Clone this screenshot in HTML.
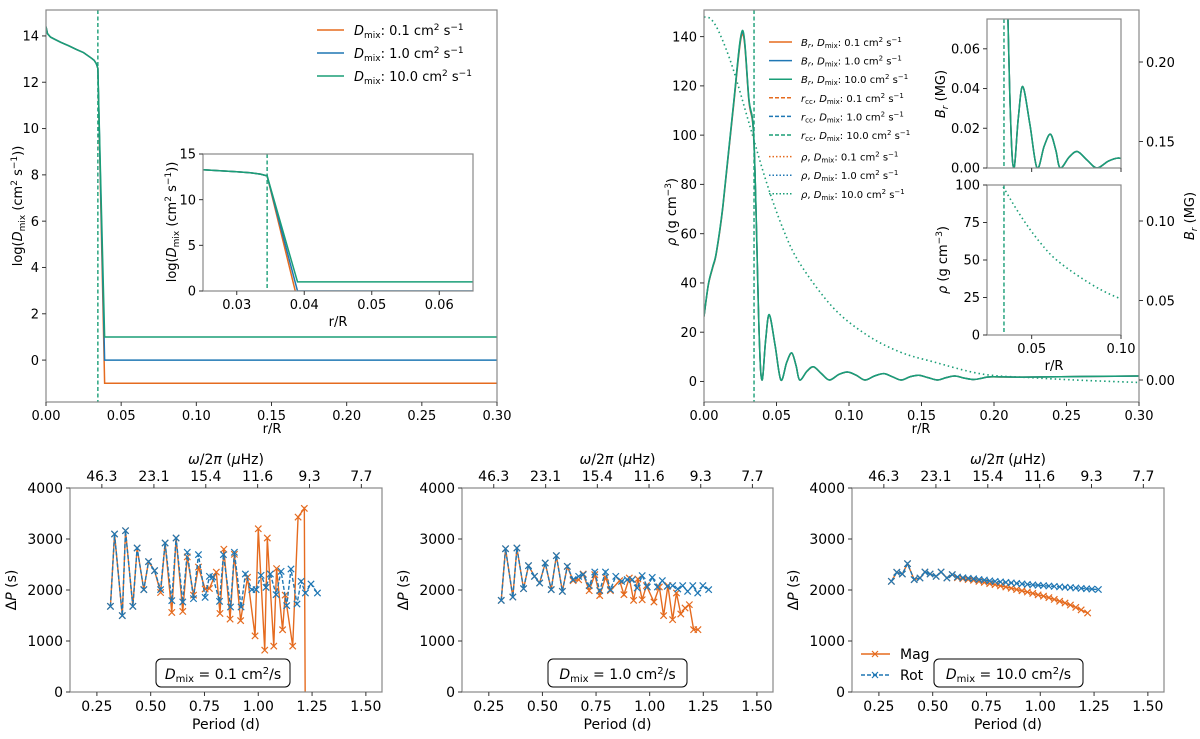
<!DOCTYPE html>
<html><head><meta charset="utf-8">
<style>
html,body{margin:0;padding:0;background:#fff;}
svg{display:block;font-family:"DejaVu Sans","Liberation Sans",sans-serif;}
</style></head>
<body>
<svg id="fig" width="1200" height="739" viewBox="0 0 1200 739" xmlns="http://www.w3.org/2000/svg"></svg>
<script>
// ---------- DATA ----------
const dmixR = [0, 0.001, 0.003, 0.006, 0.01, 0.015, 0.02, 0.025, 0.03, 0.032, 0.0335, 0.0345, 0.039, 0.3];
const dmixCore = [14.4, 14.1, 13.95, 13.85, 13.72, 13.58, 13.42, 13.28, 13.05, 12.95, 12.8, 12.6];
const dmixEnv01 = [-1, -1];
const dmixEnv1 = [0, 0];
const dmixEnv10 = [1, 1];
const dmixLabels = ["0.1", "1.0", "10.0"];
const rccValue = 0.0345;
const brR = [0, 0.003, 0.006, 0.0085, 0.013, 0.02, 0.0265, 0.031, 0.0345, 0.038, 0.040, 0.0425, 0.045, 0.049, 0.053, 0.057, 0.0605, 0.0635, 0.066, 0.071, 0.0755, 0.081, 0.0865, 0.093, 0.099, 0.105, 0.111, 0.1175, 0.124, 0.130, 0.136, 0.142, 0.148, 0.1545, 0.161, 0.167, 0.173, 0.1795, 0.186, 0.192, 0.198, 0.22, 0.26, 0.3];
const brVal = [0.040, 0.060, 0.071, 0.080, 0.109, 0.170, 0.219, 0.176, 0.149, 0.030, 0.0, 0.025, 0.041, 0.022, 0.0, 0.011, 0.017, 0.009, 0.0, 0.0055, 0.0083, 0.004, 0.0, 0.0035, 0.005, 0.003, 0.0, 0.0025, 0.004, 0.002, 0.0, 0.002, 0.003, 0.0015, 0.0, 0.0015, 0.0025, 0.0012, 0.0003, 0.0012, 0.002, 0.0018, 0.0022, 0.0025];
const rhoR = [0, 0.005, 0.011, 0.02, 0.0315, 0.043, 0.0545, 0.066, 0.089, 0.112, 0.135, 0.158, 0.192, 0.227, 0.26, 0.3];
const rhoVal = [148, 147, 141, 127, 104, 81, 62, 48, 30, 19, 12, 8, 3, 1.5, 0.5, -0.4];
const p1Period = [0.313,0.332,0.368,0.383,0.417,0.437,0.468,0.490,0.518,0.546,0.567,0.598,0.618,0.649,0.670,0.699,0.722,0.753,0.773,0.789,0.820,0.838,0.871,0.889,0.920,0.940,0.970,0.990,1.013,1.036,1.056,1.083,1.106,1.132,1.152,1.180,1.199,1.219,1.245,1.275];
const p1Rot = [1680,3098,1497,3163,1680,2824,2007,2556,2379,2007,2922,1791,3020,1765,2739,1830,2693,1856,2268,2255,1778,2693,1667,2739,1667,2314,2007,2007,2288,2052,2314,1909,2366,1693,2412,1726,2170,1941,2118,1941];
const p1MagPeriod = [0.313,0.332,0.368,0.383,0.417,0.437,0.468,0.490,0.518,0.546,0.567,0.598,0.618,0.649,0.670,0.699,0.722,0.753,0.773,0.805,0.822,0.840,0.869,0.889,0.918,0.950,0.985,1.000,1.030,1.042,1.072,1.085,1.113,1.125,1.160,1.185,1.214,1.218];
const p1Mag = [1680,3098,1497,3163,1680,2824,2007,2556,2379,1950,2922,1560,3020,1580,2650,1900,2450,2020,2030,2350,1540,2800,1430,2700,1400,2250,1100,3200,820,3020,900,2420,1220,1900,900,3430,3600,-100];
const p2Period = [0.308,0.328,0.362,0.381,0.412,0.435,0.463,0.487,0.513,0.541,0.565,0.593,0.616,0.643,0.669,0.690,0.718,0.744,0.767,0.794,0.817,0.842,0.869,0.895,0.919,0.942,0.965,0.989,1.012,1.036,1.059,1.082,1.107,1.131,1.154,1.177,1.201,1.224,1.248,1.275];
const p2Rot = [1797,2810,1862,2824,2026,2477,2268,2137,2529,2007,2673,1974,2464,2203,2268,2301,2085,2353,1987,2353,2007,2268,2170,2203,2203,2039,2281,2059,2248,2059,2183,2072,2085,2020,2085,1974,2085,1941,2085,2007];
const p2MagPeriod = [0.308,0.328,0.362,0.381,0.412,0.435,0.463,0.487,0.513,0.541,0.565,0.593,0.616,0.643,0.669,0.690,0.718,0.744,0.767,0.794,0.817,0.860,0.880,0.905,0.925,0.945,0.965,0.985,1.020,1.045,1.065,1.085,1.107,1.125,1.145,1.165,1.185,1.205,1.225];
const p2Mag = [1797,2810,1862,2824,2026,2477,2268,2137,2529,2007,2673,1974,2464,2183,2200,2314,1987,2301,1889,2248,1987,2183,1909,2235,1797,2216,1810,2085,1765,2059,1497,2085,1418,1941,1530,1647,1712,1222,1222];
const p3Period = [0.308,0.333,0.359,0.383,0.414,0.441,0.464,0.488,0.516,0.539,0.566,0.591,0.615,0.640,0.665,0.690,0.715,0.740,0.765,0.790,0.815,0.840,0.865,0.890,0.915,0.940,0.965,0.990,1.015,1.040,1.065,1.090,1.115,1.140,1.165,1.190,1.215,1.240,1.270];
const p3Rot = [2170,2347,2314,2516,2203,2235,2353,2314,2268,2353,2235,2301,2255,2240,2230,2220,2205,2195,2180,2170,2160,2150,2140,2130,2120,2110,2100,2093,2085,2078,2070,2062,2055,2048,2040,2033,2025,2018,2010];
const p3MagPeriod = [0.308,0.333,0.359,0.383,0.414,0.441,0.464,0.488,0.516,0.539,0.566,0.591,0.615,0.640,0.665,0.690,0.715,0.740,0.765,0.790,0.815,0.840,0.865,0.890,0.915,0.940,0.965,0.990,1.015,1.040,1.065,1.090,1.115,1.140,1.165,1.190,1.220];
const p3Mag = [2170,2347,2314,2516,2203,2235,2353,2314,2268,2353,2235,2301,2240,2220,2205,2190,2170,2150,2125,2105,2080,2060,2035,2010,1985,1960,1935,1905,1880,1850,1815,1780,1745,1705,1660,1610,1550];
const periodTicks = [0.25, 0.50, 0.75, 1.00, 1.25, 1.50];
const periodTickLabels = ["0.25","0.50","0.75","1.00","1.25","1.50"];
const freqTickPeriods = [0.273, 0.515, 0.756, 0.997, 1.238, 1.479];
const freqTickLabels = ["46.3","23.1","15.4","11.6","9.3","7.7"];
const dpTicks = [0, 1000, 2000, 3000, 4000];
const panelLabels = ["0.1", "1.0", "10.0"];

// ---------- RENDERING ----------
const NS = "http://www.w3.org/2000/svg";
const svg = document.getElementById("fig");
const C_OR = "#e56b1f", C_BL = "#1f77b4", C_GR = "#1a9e77";
let clipId = 0;
function el(tag, attrs, parent, text) {
  const e = document.createElementNS(NS, tag);
  for (const k in attrs) e.setAttribute(k, attrs[k]);
  if (text !== undefined) e.textContent = text;
  (parent || svg).appendChild(e);
  return e;
}
function makeAxes(name, L, R, T, B, x0, x1, y0, y1) {
  const g = el("g", {});
  
  
  const sx = v => L + (v - x0) / (x1 - x0) * (R - L);
  const sy = v => B - (v - y0) / (y1 - y0) * (B - T);
  const id = "clip" + (clipId++);
  const cp = el("clipPath", { id: id }, g);
  el("rect", { x: L, y: T, width: R - L, height: B - T }, cp);
  const plot = el("g", { "clip-path": "url(#" + id + ")" }, g);
  return { g, plot, sx, sy, L, R, T, B };
}
function frame(ax) {
  const r = el("rect", { x: ax.L, y: ax.T, width: ax.R - ax.L, height: ax.B - ax.T, fill: "none", stroke: "#888", "stroke-width": 1.2 }, ax.g);
  
  
}
function xticks(ax, vals, labels, fs, top, name) {
  vals.forEach((v, i) => {
    const x = ax.sx(v);
    if (top) {
      el("line", { x1: x, x2: x, y1: ax.T, y2: ax.T - 4, stroke: "#333" }, ax.g);
      if (labels) {
        const t = el("text", { x: x, y: ax.T - 7, "font-size": fs, "text-anchor": "middle" }, ax.g, labels[i]);
        
        
      }
    } else {
      el("line", { x1: x, x2: x, y1: ax.B, y2: ax.B + 4, stroke: "#333" }, ax.g);
      if (labels) {
        const t = el("text", { x: x, y: ax.B + 5 + fs, "font-size": fs, "text-anchor": "middle" }, ax.g, labels[i]);
        
        
      }
    }
  });
}
function yticks(ax, vals, labels, fs, name) {
  vals.forEach((v, i) => {
    const y = ax.sy(v);
    el("line", { x1: ax.L, x2: ax.L - 4, y1: y, y2: y, stroke: "#333" }, ax.g);
    if (labels) {
      const t = el("text", { x: ax.L - 7, y: y + fs * 0.36, "font-size": fs, "text-anchor": "end" }, ax.g, labels[i]);
      
      
    }
  });
}
function line(ax, xs, ys, sxf, syf, attrs, name) {
  const pts = xs.map((x, i) => sxf(x).toFixed(2) + "," + syf(ys[i]).toFixed(2)).join(" ");
  const p = el("polyline", Object.assign({ points: pts, fill: "none" }, attrs), ax.plot);
  
  
  return p;
}
function smooth(ax, xs, ys, sxf, syf, attrs, name) {
  const P = xs.map((x, i) => [sxf(x), syf(ys[i])]);
  let d = "M" + P[0][0].toFixed(2) + "," + P[0][1].toFixed(2);
  for (let i = 0; i < P.length - 1; i++) {
    const p0 = P[Math.max(0, i - 1)], p1 = P[i], p2 = P[i + 1], p3 = P[Math.min(P.length - 1, i + 2)];
    const c1 = [p1[0] + (p2[0] - p0[0]) / 6, p1[1] + (p2[1] - p0[1]) / 6];
    const c2 = [p2[0] - (p3[0] - p1[0]) / 6, p2[1] - (p3[1] - p1[1]) / 6];
    d += `C${c1[0].toFixed(2)},${c1[1].toFixed(2)} ${c2[0].toFixed(2)},${c2[1].toFixed(2)} ${p2[0].toFixed(2)},${p2[1].toFixed(2)}`;
  }
  const p = el("path", Object.assign({ d: d, fill: "none" }, attrs), ax.plot);
  
  
  return p;
}
function markers(ax, xs, ys, color, name) {
  const g = el("g", { stroke: color, "stroke-width": 1.2 }, ax.plot);
  
  
  xs.forEach((x, i) => {
    const cx = ax.sx(x), cy = ax.sy(ys[i]), s = 3.2;
    el("path", { d: `M${cx - s},${cy - s}L${cx + s},${cy + s}M${cx - s},${cy + s}L${cx + s},${cy - s}` }, g);
  });
}
function vline(ax, v, color, name) {
  const p = el("line", { x1: ax.sx(v), x2: ax.sx(v), y1: ax.T, y2: ax.B, stroke: color, "stroke-width": 1.4, "stroke-dasharray": "4,2.5" }, ax.plot);
  
  
}
function txt(x, y, fs, html, name, anchor, rot) {
  const t = el("text", { x: x, y: y, "font-size": fs, "text-anchor": anchor || "middle" });
  if (rot) t.setAttribute("transform", `rotate(${rot} ${x} ${y})`);
  t.innerHTML = html;
  
  
  return t;
}
function dmixSeries(env) { return { xs: dmixR, ys: dmixCore.concat(env) }; }
const dmixLbl = '<tspan font-style="italic">D</tspan><tspan font-size="9" dy="3">mix</tspan><tspan dy="-3">: </tspan>';
const dmixTitle = 'log(<tspan font-style="italic">D</tspan><tspan font-size="9" dy="3">mix</tspan><tspan dy="-3"> (cm</tspan><tspan font-size="9" dy="-5">2</tspan><tspan dy="5"> s</tspan><tspan font-size="9" dy="-5">−1</tspan><tspan dy="5">))</tspan>';

// ===== Top-left =====
const a1 = makeAxes("dmix-profile-panel", 46, 497, 10, 402, 0, 0.30, -1.81, 15.12);
const envs = [dmixEnv01, dmixEnv1, dmixEnv10], cols = [C_OR, C_BL, C_GR];
envs.forEach((e, i) => { const s = dmixSeries(e); line(a1, s.xs, s.ys, a1.sx, a1.sy, { stroke: cols[i], "stroke-width": 1.5 }, "dmix-line-" + i); });
vline(a1, rccValue, C_GR, "rcc-line");
frame(a1);
xticks(a1, [0,0.05,0.1,0.15,0.2,0.25,0.3], ["0.00","0.05","0.10","0.15","0.20","0.25","0.30"], 13);
yticks(a1, [0,2,4,6,8,10,12,14], ["0","2","4","6","8","10","12","14"], 13);
txt(272, 433, 13, "r/R", "x-axis-title");
txt(22, 206, 13, dmixTitle, "y-axis-title", "middle", -90);
dmixLabels.forEach((lb, i) => {
  const y = 30 + i * 23;
  const l = el("line", { x1: 317, x2: 344, y1: y, y2: y, stroke: cols[i], "stroke-width": 1.5 });
  
  
  txt(354, y + 5, 13, dmixLbl + lb + ' cm<tspan font-size="9" dy="-5">2</tspan><tspan dy="5"> s</tspan><tspan font-size="9" dy="-5">−1</tspan>', "legend-entry", "start");
});
const a1i = makeAxes("dmix-inset", 203, 473, 154, 291, 0.025, 0.065, 0, 15);
el("rect", { x: 203, y: 154, width: 270, height: 137, fill: "#fff" }, a1i.plot);
envs.forEach((e, i) => { const s = dmixSeries(e); line(a1i, s.xs, s.ys, a1i.sx, a1i.sy, { stroke: cols[i], "stroke-width": 1.5 }, "dmix-inset-line-" + i); });
vline(a1i, rccValue, C_GR, "rcc-inset-line");
frame(a1i);
xticks(a1i, [0.03,0.04,0.05,0.06], ["0.03","0.04","0.05","0.06"], 13);
yticks(a1i, [0,5,10,15], ["0","5","10","15"], 13);
txt(338, 326, 13, "r/R", "inset-x-axis-title");
txt(176, 222, 13, dmixTitle, "inset-y-axis-title", "middle", -90);

// ===== Top-right =====
const a2 = makeAxes("field-density-panel", 704, 1139, 10, 402, 0, 0.30, -8.33, 150.8);
const syR = v => 380 - v * 1590;
smooth(a2, rhoR, rhoVal, a2.sx, a2.sy, { stroke: C_GR, "stroke-width": 1.6, "stroke-dasharray": "1.5,3" }, "rho-line");
const shifts = [-0.006, 0.0, 0.004];
[C_OR, C_BL, C_GR].forEach((c, i) => smooth(a2, brR, brVal.map(v => v + shifts[i] * v), a2.sx, syR, { stroke: c, "stroke-width": 1.5 }, "br-line-" + i));
vline(a2, rccValue, C_GR, "rcc-line-right");
frame(a2);
xticks(a2, [0,0.05,0.1,0.15,0.2,0.25,0.3], ["0.00","0.05","0.10","0.15","0.20","0.25","0.30"], 13);
yticks(a2, [0,20,40,60,80,100,120,140], ["0","20","40","60","80","100","120","140"], 13);
[0,0.05,0.1,0.15,0.2].forEach(v => {
  el("line", { x1: 1139, x2: 1143, y1: syR(v), y2: syR(v), stroke: "#333" });
  txt(1146, syR(v) + 5, 13, v.toFixed(2), "right-tick-label", "start");
});
txt(921, 433, 13, "r/R", "x-axis-title-right");
txt(676, 212, 13, '<tspan font-style="italic">ρ</tspan> (g cm<tspan font-size="9" dy="-5">−3</tspan><tspan dy="5">)</tspan>', "y-axis-title-rho", "middle", -90);
txt(1194, 216, 13, '<tspan font-style="italic">B</tspan><tspan font-size="9" dy="3" font-style="italic">r</tspan><tspan dy="-3"> (MG)</tspan>', "y-axis-title-br", "middle", -90);
const legNames = ['<tspan font-style="italic">B</tspan><tspan font-size="7" dy="2" font-style="italic">r</tspan><tspan dy="-2">, </tspan>', '<tspan font-style="italic">r</tspan><tspan font-size="7" dy="2">cc</tspan><tspan dy="-2">, </tspan>', '<tspan font-style="italic">ρ</tspan>, '];
const legStyles = [{}, { "stroke-dasharray": "4,2" }, { "stroke-dasharray": "1.5,2" }];
for (let k = 0; k < 3; k++) for (let i = 0; i < 3; i++) {
  const y = 42 + (k * 3 + i) * 18.6 + (k == 2 ? 3 : 0);
  const l = el("line", Object.assign({ x1: 769, x2: 792, y1: y, y2: y, stroke: cols[i], "stroke-width": 1.5 }, legStyles[k]));
  
  
  txt(801, y + 4, 10, legNames[k] + '<tspan font-style="italic">D</tspan><tspan font-size="7" dy="2">mix</tspan><tspan dy="-2">: ' + dmixLabels[i] + ' cm</tspan><tspan font-size="7" dy="-4">2</tspan><tspan dy="4"> s</tspan><tspan font-size="7" dy="-4">−1</tspan>', "legend-entry", "start");
}
const a2u = makeAxes("br-inset", 987, 1121, 19, 168, 0.025, 0.10, 0, 0.075);
el("rect", { x: 987, y: 19, width: 134, height: 149, fill: "#fff" }, a2u.plot);
[C_OR, C_BL, C_GR].forEach((c, i) => smooth(a2u, brR, brVal, a2u.sx, a2u.sy, { stroke: c, "stroke-width": 1.5 }, "br-inset-line-" + i));
vline(a2u, rccValue, C_GR, "rcc-inset-br");
frame(a2u);
xticks(a2u, [0.05, 0.10], null, 12);
yticks(a2u, [0,0.02,0.04,0.06], ["0.00","0.02","0.04","0.06"], 13);
txt(945, 94, 13, '<tspan font-style="italic">B</tspan><tspan font-size="9" dy="3" font-style="italic">r</tspan><tspan dy="-3"> (MG)</tspan>', "inset-y-title-br", "middle", -90);
const a2l = makeAxes("rho-inset", 987, 1121, 185, 335, 0.025, 0.10, 0, 100);
el("rect", { x: 987, y: 185, width: 134, height: 150, fill: "#fff" }, a2l.plot);
smooth(a2l, rhoR, rhoVal, a2l.sx, a2l.sy, { stroke: C_GR, "stroke-width": 1.6, "stroke-dasharray": "1.5,3" }, "rho-inset-line");
vline(a2l, rccValue, C_GR, "rcc-inset-rho");
frame(a2l);
xticks(a2l, [0.05, 0.10], ["0.05","0.10"], 13);
yticks(a2l, [0,25,50,75,100], ["0","25","50","75","100"], 13);
txt(1054, 370, 13, "r/R", "inset-x-title-rho");
txt(947, 260, 13, '<tspan font-style="italic">ρ</tspan> (g cm<tspan font-size="9" dy="-5">−3</tspan><tspan dy="5">)</tspan>', "inset-y-title-rho", "middle", -90);

// ===== Bottom panels =====
const panels = [
  { L: 70, R: 382, P: p1Period, rot: p1Rot, mP: p1MagPeriod, mag: p1Mag, box: [156, 290] },
  { L: 462, R: 773, P: p2Period, rot: p2Rot, mP: p2MagPeriod, mag: p2Mag, box: [548, 687] },
  { L: 852, R: 1164, P: p3Period, rot: p3Rot, mP: p3MagPeriod, mag: p3Mag, box: [934, 1083] },
];
panels.forEach((pn, k) => {
  const ax = makeAxes("period-spacing-panel-" + (k + 1), pn.L, pn.R, 488, 692, 0.125, 1.575, 0, 4000);
  line(ax, pn.mP, pn.mag, ax.sx, ax.sy, { stroke: C_OR, "stroke-width": 1.4 }, "mag-line");
  markers(ax, pn.mP, pn.mag, C_OR, "mag-markers");
  line(ax, pn.P, pn.rot, ax.sx, ax.sy, { stroke: C_BL, "stroke-width": 1.4, "stroke-dasharray": "4,2" }, "rot-line");
  markers(ax, pn.P, pn.rot, C_BL, "rot-markers");
  frame(ax);
  xticks(ax, periodTicks, periodTickLabels, 14);
  xticks(ax, freqTickPeriods, freqTickLabels, 14, true, "frequency-tick-label");
  yticks(ax, dpTicks, dpTicks.map(String), 14);
  const cx = (pn.L + pn.R) / 2;
  txt(cx, 729, 14, "Period (d)", "x-axis-title");
  txt(cx, 464, 14, '<tspan font-style="italic">ω</tspan>/2<tspan font-style="italic">π</tspan> (<tspan font-style="italic">μ</tspan>Hz)', "top-axis-title");
  txt(pn.L - 54, 590, 14, 'Δ<tspan font-style="italic">P</tspan> (s)', "y-axis-title", "middle", -90);
  const b = el("rect", { x: pn.box[0], y: 659, width: pn.box[1] - pn.box[0], height: 28, rx: 5, fill: "#fff", stroke: "#000", "stroke-width": 1 });
  
  
  txt((pn.box[0] + pn.box[1]) / 2, 679, 14, '<tspan font-style="italic">D</tspan><tspan font-size="10" dy="3">mix</tspan><tspan dy="-3"> = ' + panelLabels[k] + ' cm</tspan><tspan font-size="10" dy="-5">2</tspan><tspan dy="5">/s</tspan>', "dmix-annotation");
});
[["Mag", C_OR, 654, {}], ["Rot", C_BL, 675, { "stroke-dasharray": "4,2" }]].forEach(([lab, c, y, st]) => {
  const l = el("line", Object.assign({ x1: 861, x2: 890, y1: y, y2: y, stroke: c, "stroke-width": 1.5 }, st));
  
  
  const m = el("path", { d: `M872,${y - 3}L878,${y + 3}M872,${y + 3}L878,${y - 3}`, stroke: c, "stroke-width": 1.2 });
  
  
  txt(900, y + 5, 14, lab, "legend-entry", "start");
});
</script>
</body></html>
